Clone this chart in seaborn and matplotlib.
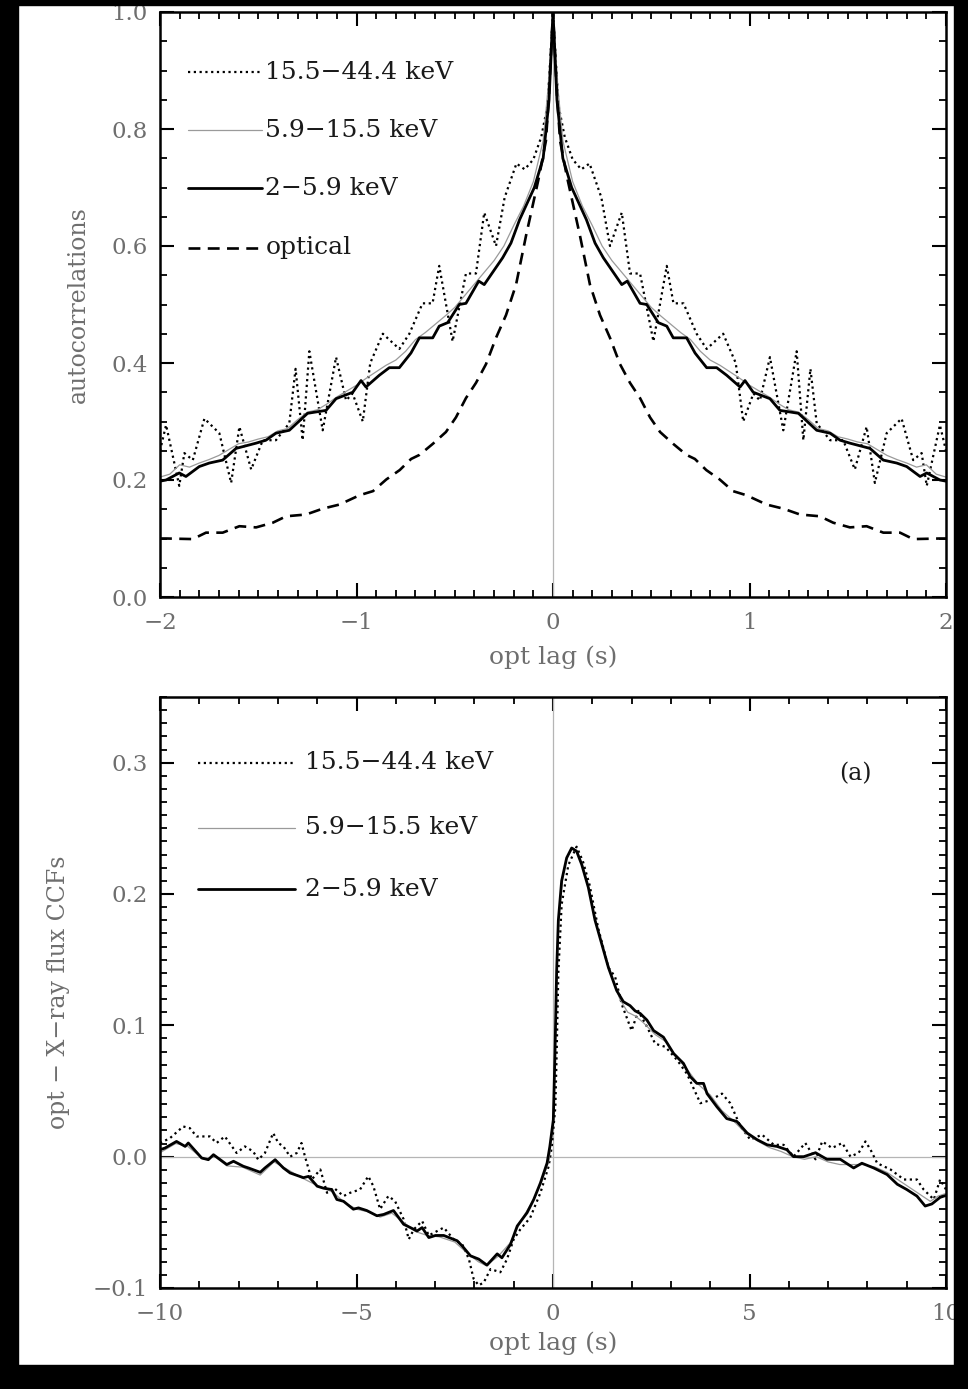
import numpy as np
import matplotlib
matplotlib.use("Agg")
import matplotlib.pyplot as plt
from matplotlib.patches import Rectangle
from matplotlib.ticker import MultipleLocator, FuncFormatter
import seaborn as sns

# ---------------- data: top panel (autocorrelations, right half; ACFs are symmetric) ----------------
acf_lag_hard = [0, 0.028, 0.06, 0.10, 0.144, 0.186, 0.246, 0.29, 0.35, 0.392, 0.443, 0.511, 0.579,
                0.613, 0.664, 0.731, 0.782, 0.866, 0.93, 0.968, 1.02, 1.053, 1.104, 1.172, 1.24,
                1.274, 1.31, 1.342, 1.41, 1.477, 1.536, 1.596, 1.638, 1.698, 1.774, 1.833, 1.876,
                1.902, 1.969, 2.0]
acf_hard = [1.0, 0.84, 0.786, 0.748, 0.731, 0.741, 0.683, 0.60, 0.657, 0.553, 0.553, 0.437, 0.566,
            0.502, 0.502, 0.45, 0.424, 0.45, 0.40, 0.30, 0.348, 0.336, 0.41, 0.285, 0.42,
            0.268, 0.39, 0.297, 0.268, 0.268, 0.218, 0.291, 0.195, 0.28, 0.305, 0.234, 0.246,
            0.19, 0.294, 0.25]

acf_lag_mid = [0, 0.025, 0.05, 0.1, 0.15, 0.2, 0.25, 0.3, 0.35, 0.4, 0.45, 0.5, 0.55, 0.6, 0.65,
               0.7, 0.75, 0.8, 0.85, 0.9, 0.95, 1.0, 1.05, 1.1, 1.15, 1.2, 1.25, 1.3, 1.35, 1.4,
               1.45, 1.5, 1.55, 1.6, 1.65, 1.7, 1.75, 1.8, 1.85, 1.9, 1.95, 2.0]
acf_mid = [1.0, 0.87, 0.78, 0.71, 0.668, 0.635, 0.60, 0.575, 0.555, 0.535, 0.515, 0.495, 0.48,
           0.466, 0.452, 0.44, 0.42, 0.405, 0.396, 0.385, 0.374, 0.362, 0.352, 0.342, 0.33, 0.32,
           0.316, 0.303, 0.288, 0.284, 0.274, 0.27, 0.265, 0.262, 0.252, 0.242, 0.235, 0.229,
           0.222, 0.226, 0.21, 0.205]

acf_lag_soft = [0, 0.02, 0.05, 0.095, 0.17, 0.214, 0.256, 0.35, 0.378, 0.443, 0.477, 0.536, 0.579,
                0.612, 0.68, 0.723, 0.782, 0.833, 0.884, 0.952, 0.977, 1.019, 1.104, 1.155, 1.249,
                1.342, 1.41, 1.461, 1.511, 1.613, 1.681, 1.749, 1.80, 1.868, 1.902, 1.969, 2.0]
acf_soft = [1.0, 0.85, 0.75, 0.70, 0.645, 0.605, 0.58, 0.534, 0.54, 0.502, 0.50, 0.469, 0.463,
            0.443, 0.443, 0.417, 0.392, 0.392, 0.379, 0.359, 0.37, 0.35, 0.339, 0.319, 0.314,
            0.285, 0.28, 0.268, 0.263, 0.254, 0.234, 0.229, 0.223, 0.206, 0.212, 0.20, 0.198]

acf_lag_opt = [0, 0.02, 0.036, 0.07, 0.137, 0.188, 0.239, 0.29, 0.341, 0.392, 0.443, 0.494, 0.545,
               0.611, 0.679, 0.722, 0.78, 0.848, 0.916, 0.984, 1.087, 1.172, 1.257, 1.358, 1.426,
               1.511, 1.596, 1.681, 1.766, 1.833, 1.969, 2.0]
acf_opt = [1.0, 0.86, 0.78, 0.72, 0.618, 0.534, 0.482, 0.443, 0.398, 0.366, 0.34, 0.307, 0.282,
           0.262, 0.243, 0.236, 0.217, 0.201, 0.181, 0.174, 0.158, 0.151, 0.141, 0.138, 0.127,
           0.119, 0.121, 0.11, 0.11, 0.099, 0.10, 0.10]

# ---------------- data: bottom panel (optical - X-ray CCFs) ----------------
ccf_lag_hard = [-10, -9.75, -9.41, -9.24, -9.07, -8.73, -8.56, -8.35, -8.05, -7.84, -7.63, -7.50,
                -7.33, -7.12, -6.99, -6.86, -6.69, -6.52, -6.40, -6.31, -6.14, -5.92, -5.75, -5.58,
                -5.33, -5.16, -4.91, -4.70, -4.57, -4.40, -4.19, -4.02, -3.80, -3.67, -3.54, -3.33,
                -3.16, -2.78, -2.53, -2.31, -2.14, -2.02, -1.89, -1.76, -1.59, -1.34, -1.17, -1.0,
                -0.83, -0.58, -0.32, -0.11, -0.03, 0.06, 0.093, 0.136, 0.22, 0.39, 0.60, 0.76,
                0.93, 1.15, 1.41, 1.58, 1.75, 2.0, 2.17, 2.39, 2.60, 2.86, 3.16, 3.41, 3.75, 4.0,
                4.30, 4.51, 4.77, 5.02, 5.32, 5.62, 5.87, 6.12, 6.42, 6.68, 6.85, 7.10, 7.36, 7.57,
                7.78, 7.95, 8.08, 8.25, 8.59, 8.93, 9.26, 9.43, 9.69, 9.85, 10.0]
ccf_hard = [0.0104, 0.014, 0.023, 0.0217, 0.0154, 0.0154, 0.0104, 0.0154, 0.0028, 0.0078, 0.004,
            -0.0023, 0.0028, 0.018, 0.0104, 0.0078, 0.0, 0.0028, 0.0104, 0.0, -0.0174, -0.0098,
            -0.0275, -0.0237, -0.030, -0.0275, -0.025, -0.0149, -0.0225, -0.040, -0.030, -0.0338,
            -0.0477, -0.0629, -0.0553, -0.049, -0.060, -0.054, -0.0629, -0.0667, -0.078, -0.093,
            -0.098, -0.0957, -0.0856, -0.088, -0.078, -0.0629, -0.0553, -0.0465, -0.0275, -0.0073,
            0.0078, 0.038, 0.0785, 0.14, 0.192, 0.222, 0.236, 0.225, 0.207, 0.174, 0.144, 0.137,
            0.116, 0.096, 0.111, 0.099, 0.086, 0.0836, 0.0735, 0.063, 0.0407, 0.043, 0.048, 0.0407,
            0.023, 0.013, 0.0167, 0.009, 0.009, 0.0, 0.0104, -0.002, 0.0116, 0.0066, 0.0104, 0.0,
            0.003, 0.0116, 0.0053, -0.005, -0.0098, -0.0174, -0.0174, -0.025, -0.0326, -0.0174,
            -0.025]

ccf_lag_mid = [-10, -9.6, -9.3, -8.9, -8.6, -8.3, -7.9, -7.45, -7.1, -6.8, -6.4, -6.0, -5.6, -5.3,
               -5.0, -4.7, -4.4, -4.1, -3.8, -3.5, -3.2, -2.9, -2.5, -2.2, -1.9, -1.7, -1.4, -1.1,
               -0.8, -0.5, -0.3, -0.1, 0.0, 0.05, 0.1, 0.15, 0.25, 0.35, 0.5, 0.62, 0.75, 0.9, 1.1,
               1.3, 1.5, 1.7, 1.9, 2.1, 2.3, 2.6, 2.9, 3.1, 3.4, 3.7, 4.0, 4.3, 4.6, 4.9, 5.2, 5.5,
               5.8, 6.1, 6.4, 6.7, 7.0, 7.3, 7.6, 7.9, 8.2, 8.5, 8.8, 9.1, 9.4, 9.6, 9.8, 10.0]
ccf_mid = [0.003, 0.010, 0.008, -0.002, 0.0, -0.007, -0.008, -0.014, -0.004, -0.009, -0.016,
           -0.022, -0.027, -0.035, -0.040, -0.042, -0.046, -0.043, -0.050, -0.057, -0.060, -0.061,
           -0.065, -0.073, -0.080, -0.083, -0.076, -0.066, -0.048, -0.033, -0.020, -0.003, 0.025,
           0.08, 0.145, 0.185, 0.213, 0.228, 0.235, 0.232, 0.222, 0.205, 0.177, 0.156, 0.137,
           0.12, 0.11, 0.107, 0.102, 0.093, 0.087, 0.077, 0.067, 0.055, 0.047, 0.035, 0.027,
           0.018, 0.012, 0.007, 0.004, 0.0, -0.002, 0.0, -0.004, -0.006, -0.006, -0.006, -0.008,
           -0.012, -0.018, -0.024, -0.03, -0.034, -0.03, -0.028]

ccf_lag_soft = [-10.0, -9.87, -9.58, -9.36, -9.28, -8.94, -8.77, -8.64, -8.30, -8.13, -7.88, -7.75,
                -7.45, -7.33, -7.07, -6.86, -6.69, -6.35, -6.22, -6.0, -5.84, -5.63, -5.50, -5.33,
                -5.08, -4.95, -4.74, -4.48, -4.31, -4.06, -3.80, -3.63, -3.46, -3.33, -3.16, -2.99,
                -2.78, -2.44, -2.31, -2.10, -1.89, -1.68, -1.42, -1.30, -1.08, -0.91, -0.66, -0.49,
                -0.32, -0.15, -0.08, 0.008, 0.05, 0.093, 0.136, 0.22, 0.348, 0.475, 0.60, 0.73,
                0.899, 1.07, 1.24, 1.41, 1.62, 1.79, 1.96, 2.09, 2.22, 2.39, 2.56, 2.81, 3.07, 3.32,
                3.49, 3.66, 3.83, 3.92, 4.17, 4.42, 4.68, 4.94, 5.19, 5.45, 5.70, 5.95, 6.12, 6.38,
                6.68, 6.97, 7.31, 7.65, 7.86, 8.16, 8.50, 8.76, 9.0, 9.26, 9.47, 9.64, 9.85, 10.0]
ccf_soft = [0.0053, 0.0066, 0.0116, 0.0078, 0.0104, -0.001, -0.0023, 0.0015, -0.006, -0.0035,
            -0.0073, -0.0086, -0.0119, -0.0086, -0.0023, -0.0086, -0.0124, -0.016, -0.015, -0.0225,
            -0.024, -0.025, -0.0326, -0.034, -0.040, -0.039, -0.041, -0.045, -0.044, -0.041,
            -0.0515, -0.054, -0.0566, -0.054, -0.0616, -0.060, -0.060, -0.064, -0.068, -0.0755,
            -0.078, -0.0826, -0.074, -0.077, -0.0667, -0.0528, -0.0427, -0.0326, -0.020, -0.0048,
            0.0078, 0.028, 0.0785, 0.1417, 0.18, 0.21, 0.2275, 0.235, 0.2326, 0.2225, 0.205, 0.18,
            0.162, 0.144, 0.1265, 0.118, 0.115, 0.111, 0.109, 0.104, 0.096, 0.091, 0.0785, 0.071,
            0.061, 0.0558, 0.0558, 0.048, 0.038, 0.029, 0.0268, 0.018, 0.013, 0.009, 0.0078,
            0.0053, 0.0, 0.0, 0.003, -0.002, -0.002, -0.0086, -0.005, -0.0086, -0.0136, -0.021,
            -0.025, -0.030, -0.0376, -0.036, -0.031, -0.0295]

band_labels = ["15.5\u221244.4 keV", "5.9\u221215.5 keV", "2\u22125.9 keV", "optical"]


def mirror(lag, val):
    lag = np.asarray(lag, float)
    val = np.asarray(val, float)
    return np.r_[-lag[:0:-1], lag], np.r_[val[:0:-1], val]


def fmt(spec):
    def f(v, pos):
        s = spec % v
        if s.startswith("-") and float(s) == 0:
            s = s[1:]
        return s.replace("-", "\u2212")
    return FuncFormatter(f)


# ---------------- styling ----------------
sns.set_theme(style="white")
plt.rcParams["font.family"] = ["DejaVu Serif"]

W, H = 968, 1389
fig = plt.figure(figsize=(W / 100, H / 100), dpi=100, facecolor="white")

def ax_rect(left, right, top, bottom):
    return [left / W, 1 - bottom / H, (right - left) / W, (bottom - top) / H]

ax1 = fig.add_axes(ax_rect(160, 946, 12, 597))
ax2 = fig.add_axes(ax_rect(160, 946, 697, 1288))

tick_col = "#6e6e6e"
TICK_FS = 16.5
LAB_FS = 18
LEG_FS = 18
styles = [
    dict(color="black", lw=1.6, linestyle=(0, (1, 1.6))),    # hard: dotted
    dict(color="#9a9a9a", lw=0.9, linestyle="-"),            # mid: thin grey
    dict(color="black", lw=2.0, linestyle="-"),              # soft: thick
    dict(color="black", lw=1.9, linestyle=(0, (4.5, 2.8))),  # optical: dashed
]

# ---- top panel ----
ax1.axvline(0, color="#b5b5b5", lw=0.9, zorder=1)
series_top = [mirror(acf_lag_hard, acf_hard), mirror(acf_lag_mid, acf_mid),
              mirror(acf_lag_soft, acf_soft), mirror(acf_lag_opt, acf_opt)]
for (xx, yy), st in zip(series_top, styles):
    sns.lineplot(x=xx, y=yy, ax=ax1, sort=False, estimator=None, **st)

ax1.set_xlim(-2, 2)
ax1.set_ylim(0, 1.0)
ax1.xaxis.set_major_locator(MultipleLocator(1))
ax1.xaxis.set_minor_locator(MultipleLocator(0.1))
ax1.yaxis.set_major_locator(MultipleLocator(0.2))
ax1.yaxis.set_minor_locator(MultipleLocator(0.05))
ax1.xaxis.set_major_formatter(fmt("%d"))
ax1.yaxis.set_major_formatter(fmt("%.1f"))
ax1.set_xlabel("opt lag (s)", color=tick_col, fontsize=LAB_FS)
ax1.set_ylabel("autocorrelations", color=tick_col, fontsize=LAB_FS - 1)
ax1.xaxis.set_label_coords(0.5, -0.083)
ax1.yaxis.set_label_coords(-0.089, 0.5)

rows_top = [0.897, 0.798, 0.699, 0.597]
for lab, st, ry in zip(band_labels, styles, rows_top):
    ax1.plot([0.036, 0.13], [ry, ry], transform=ax1.transAxes, **st)
    ax1.text(0.134, ry, lab, transform=ax1.transAxes, fontsize=LEG_FS, va="center", ha="left",
             color="#1a1a1a")

# ---- bottom panel ----
ax2.axvline(0, color="#b5b5b5", lw=0.9, zorder=1)
ax2.axhline(0, color="#b5b5b5", lw=0.9, zorder=1)
series_bot = [(ccf_lag_hard, ccf_hard), (ccf_lag_mid, ccf_mid), (ccf_lag_soft, ccf_soft)]
for (xx, yy), st in zip(series_bot, styles[:3]):
    sns.lineplot(x=np.asarray(xx), y=np.asarray(yy), ax=ax2, sort=False, estimator=None, **st)

ax2.set_xlim(-10, 10)
ax2.set_ylim(-0.1, 0.35)
ax2.xaxis.set_major_locator(MultipleLocator(5))
ax2.xaxis.set_minor_locator(MultipleLocator(1))
ax2.yaxis.set_major_locator(MultipleLocator(0.1))
ax2.yaxis.set_minor_locator(MultipleLocator(0.01))
ax2.xaxis.set_major_formatter(fmt("%d"))
ax2.yaxis.set_major_formatter(fmt("%.1f"))
ax2.set_xlabel("opt lag (s)", color=tick_col, fontsize=LAB_FS)
ax2.set_ylabel("opt \u2212 X\u2212ray flux CCFs", color=tick_col, fontsize=LAB_FS - 1)
ax2.xaxis.set_label_coords(0.5, -0.074)
ax2.yaxis.set_label_coords(-0.115, 0.5)

rows_bot = [0.889, 0.779, 0.675]
for lab, st, ry in zip(band_labels[:3], styles[:3], rows_bot):
    ax2.plot([0.048, 0.172], [ry, ry], transform=ax2.transAxes, **st)
    ax2.text(0.185, ry, lab, transform=ax2.transAxes, fontsize=LEG_FS, va="center", ha="left",
             color="#1a1a1a")
ax2.text(0.885, 0.871, "(a)", transform=ax2.transAxes, fontsize=LEG_FS - 1, va="center",
         ha="center", color="#1a1a1a")

for ax in (ax1, ax2):
    for sp in ax.spines.values():
        sp.set_visible(True)
        sp.set_color("black")
        sp.set_linewidth(1.8)
    ax.tick_params(which="both", direction="in", top=True, right=True, bottom=True, left=True,
                   color="black", labelcolor=tick_col, labelsize=TICK_FS)
    ax.tick_params(which="major", length=10, width=1.5)
    ax.tick_params(which="minor", length=5, width=1.3)
    ax.tick_params(axis="x", which="major", pad=11)
    ax.tick_params(axis="y", which="major", pad=9)
    ax.set_facecolor("white")

# black frame around the scanned page
frame = [(0, 0, 18 / W, 1), (954 / W, 0, 1 - 954 / W, 1), (0, 0, 1, (H - 1365) / H),
         (0, 1 - 5 / H, 1, 5 / H)]
for (x0, y0, w, h) in frame:
    fig.add_artist(Rectangle((x0, y0), w, h, transform=fig.transFigure, color="black",
                             zorder=20))

fig.savefig("out.png", dpi=100, facecolor="white")
